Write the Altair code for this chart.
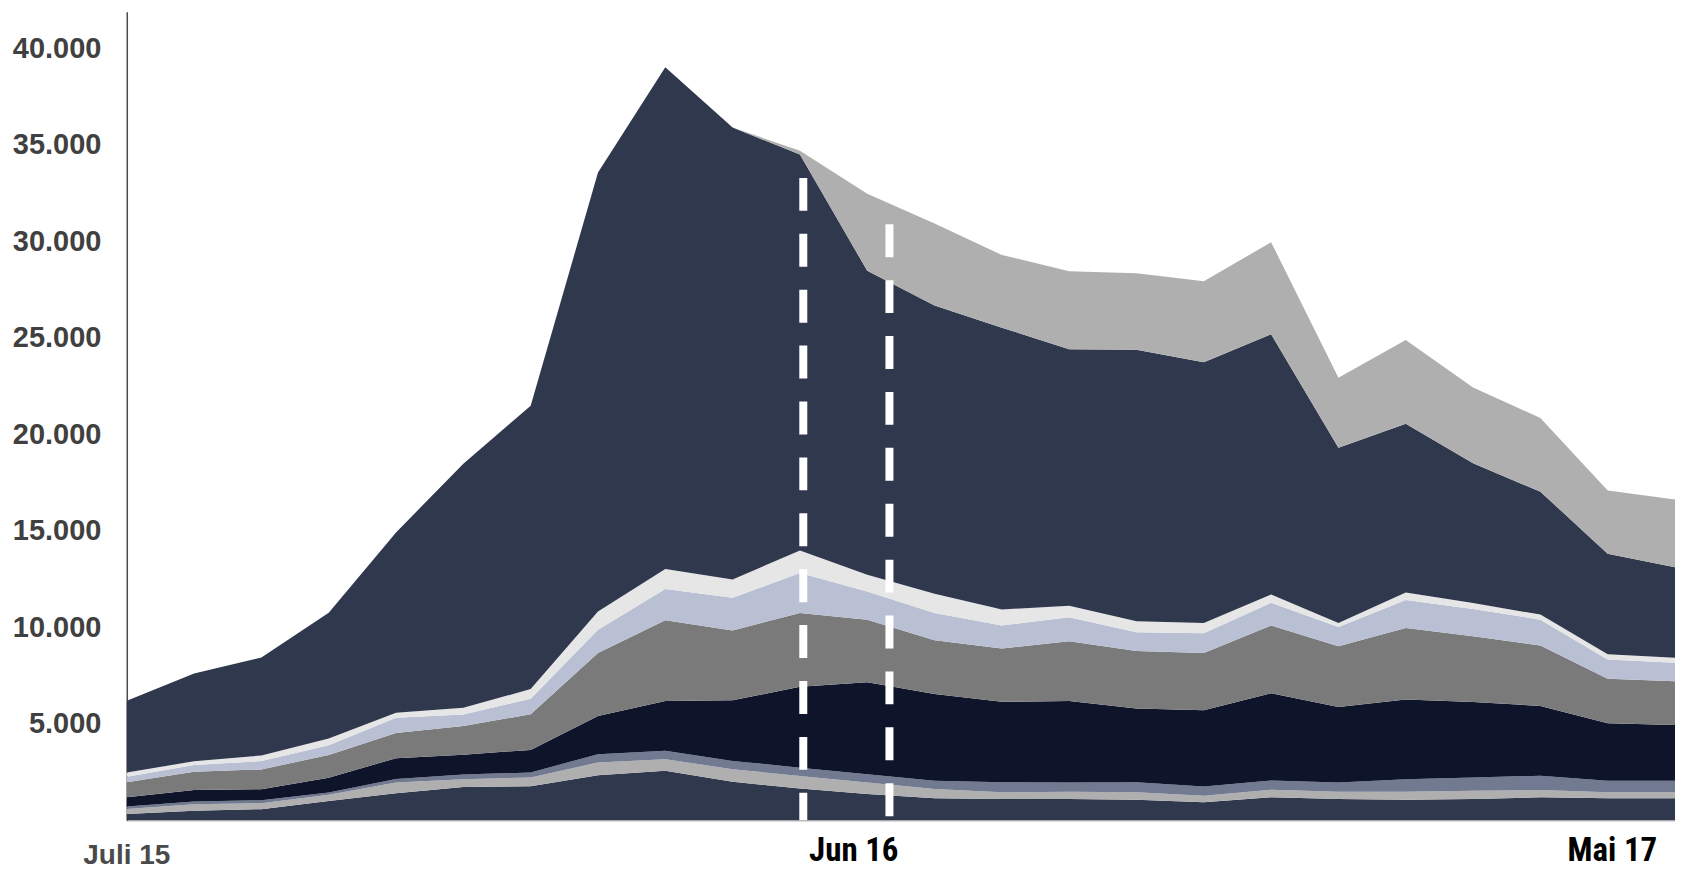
import altair as alt
import pandas as pd

# monthly index, Juli 15 ... (24 points)
x_idx = list(range(24))

# layer thicknesses, bottom to top
s_base      = [330, 500, 580, 1000, 1400, 1730, 1770, 2340, 2570, 2000, 1650, 1360, 1140, 1100, 1100, 1070, 930, 1190, 1100, 1070, 1100, 1190, 1140, 1140]
s_lightgray = [260, 330, 310, 320, 560, 400, 450, 655, 600, 650, 650, 600, 480, 350, 380, 380, 340, 400, 380, 410, 430, 380, 310, 310]
s_slate     = [120, 140, 150, 120, 180, 240, 260, 430, 430, 430, 430, 430, 430, 520, 480, 520, 480, 470, 480, 650, 690, 740, 600, 600]
s_navy      = [480, 600, 570, 770, 1080, 1030, 1170, 1980, 2580, 3140, 4190, 4770, 4500, 4170, 4220, 3820, 3960, 4530, 3910, 4130, 3910, 3620, 2980, 2890]
s_gray      = [780, 950, 1030, 1180, 1300, 1490, 1850, 3270, 4190, 3620, 3820, 3240, 2780, 2760, 3100, 2980, 2960, 3510, 3150, 3700, 3410, 3130, 2310, 2270]
s_lavender  = [290, 350, 430, 500, 800, 600, 800, 1200, 1620, 1690, 2070, 1460, 1420, 1200, 1240, 980, 1030, 1170, 1000, 1460, 1410, 1340, 1000, 950]
s_white     = [220, 190, 290, 350, 260, 340, 500, 950, 1030, 950, 1170, 860, 990, 830, 600, 570, 520, 430, 210, 380, 310, 260, 260, 260]
s_main      = [3720, 4550, 5080, 6520, 9340, 12650, 14680, 22740, 26010, 23420, 20520, 15760, 14940, 14600, 13290, 14070, 13520, 13490, 9080, 8750, 7240, 6370, 5220, 4700]
s_top       = [0, 0, 0, 0, 0, 0, 0, 0, 0, 0, 200, 3990, 4250, 3770, 4050, 3960, 4190, 4770, 3620, 4340, 3930, 3820, 3270, 3510]

series_names = ["S1", "S2", "S3", "S4", "S5", "S6", "S7", "S8", "S9"]
series_values = [s_base, s_lightgray, s_slate, s_navy, s_gray, s_lavender, s_white, s_main, s_top]
series_colors = ["#30384d", "#afafaf", "#717a90", "#0e1429", "#7a7a7a", "#b9c0d3", "#e6e6e6", "#30384d", "#afafaf"]

y_ticks = [5000, 10000, 15000, 20000, 25000, 30000, 35000, 40000]

x_labels = ["Juli 15", "Jun 16", "Mai 17"]
x_label_pos = [0, 10.8, 22.07]

rule_x = [10.05, 11.33]
rule_top = [33290, 30890]

rows = []
for k, (name, vals) in enumerate(zip(series_names, series_values)):
    for i, v in zip(x_idx, vals):
        rows.append({"x": i, "series": name, "order": k, "value": v})
df = pd.DataFrame(rows)

xscale = alt.Scale(domain=[0, 23], nice=False, zero=False)
yscale = alt.Scale(domain=[0, 41900], nice=False)

areas = alt.Chart(df).mark_area(interpolate="linear").encode(
    x=alt.X("x:Q", scale=xscale,
            axis=alt.Axis(labels=False, ticks=False, grid=False, title=None,
                          domainColor="#cfcfcf", domainWidth=2)),
    y=alt.Y("value:Q", stack="zero", scale=yscale,
            axis=alt.Axis(values=y_ticks, title=None, ticks=False, grid=False,
                          labelExpr="replace(format(datum.value, ','), ',', '.')",
                          labelFont="Liberation Sans", labelFontWeight="bold",
                          labelFontSize=29, labelColor="#404040", labelPadding=26,
                          domainColor="#4a4a4a", domainWidth=1.5)),
    color=alt.Color("series:N", scale=alt.Scale(domain=series_names, range=series_colors), legend=None),
    order=alt.Order("order:Q"),
)

rules_df = pd.DataFrame({"x": rule_x, "top": rule_top, "bottom": [0, 0]})
rules = alt.Chart(rules_df).mark_rule(color="white", strokeWidth=8, strokeDash=[33, 23], strokeCap="butt").encode(
    x=alt.X("x:Q", scale=xscale),
    y=alt.Y("top:Q", scale=yscale),
    y2="bottom:Q",
)

lab_df = pd.DataFrame({"x": x_label_pos, "label": x_labels, "size": [28, 33, 33]})
lab_first = alt.Chart(lab_df.iloc[[0]]).mark_text(
    font="Liberation Sans", fontWeight="bold", color="#4a4a4a", baseline="middle", align="center"
).encode(x=alt.X("x:Q", scale=xscale), y=alt.value(846), text="label:N", size=alt.Size("size:Q", scale=None))
lab_rest = alt.Chart(lab_df.iloc[[1, 2]]).mark_text(
    font="Liberation Sans Narrow, Roboto Condensed, Liberation Sans", fontWeight="bold", color="#000000",
    baseline="middle", align="center"
).encode(x=alt.X("x:Q", scale=xscale), y=alt.value(841), text="label:N", size=alt.Size("size:Q", scale=None))

chart = alt.layer(areas, rules, lab_first, lab_rest).properties(
    width=1551, height=810,
    autosize=alt.AutoSizeParams(type="none"),
    padding={"left": 119, "top": 3, "right": 0, "bottom": 56},
).configure_view(stroke=None)

chart.save("out.html", embed_options={"renderer": "svg", "actions": False})
